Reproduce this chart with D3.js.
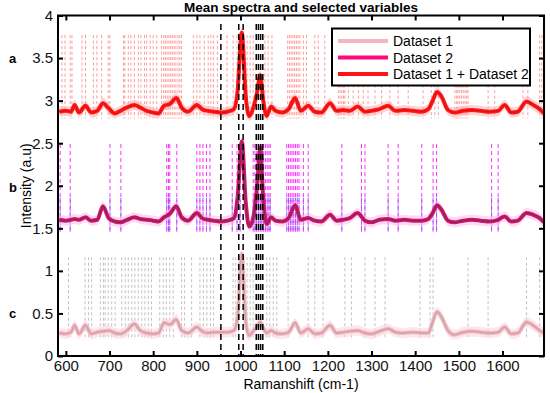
<!DOCTYPE html>
<html>
<head>
<meta charset="utf-8">
<script src="https://cdn.jsdelivr.net/npm/d3@7"></script>
<style>
  body { margin: 0; background: #fff; }
  svg { font-family: "Liberation Sans", Arial, sans-serif; }
</style>
</head>
<body>
<svg id="chart"></svg>
<script>
// raman shift grid (cm-1) shared by the three mean spectra
const shift = [585, 600, 612, 620, 630, 645, 658, 672, 685, 698, 712, 725, 740, 757, 770, 785, 800, 812, 825, 838,
  853, 865, 880, 900, 912, 925, 940, 955, 970, 985, 993, 1003, 1012, 1020, 1030, 1038, 1045, 1052, 1060, 1070,
  1080, 1095, 1110, 1125, 1138, 1155, 1170, 1185, 1205, 1220, 1235, 1250, 1268, 1285, 1300, 1318, 1338, 1355, 1375, 1395,
  1415, 1430, 1440, 1450, 1460, 1475, 1490, 1510, 1530, 1550, 1570, 1590, 1605, 1620, 1635, 1655, 1670, 1685, 1695];

// spectrum a : Dataset 1 + Dataset 2
const meanBoth = [2.87, 2.88, 2.87, 2.95, 2.86, 2.94, 2.86, 2.88, 2.97, 2.91, 2.85, 2.88, 2.92, 2.95, 2.92, 2.88, 2.86, 2.85, 2.94, 2.96,
  3.03, 2.92, 2.87, 2.95, 2.90, 2.88, 2.87, 2.86, 2.87, 2.90, 3.10, 3.80, 3.05, 2.82, 2.93, 3.10, 3.30, 3.00, 2.82, 2.93,
  2.88, 2.86, 2.90, 3.03, 2.88, 2.94, 2.87, 2.86, 2.97, 2.88, 2.89, 2.88, 2.93, 2.87, 2.88, 2.90, 2.94, 2.88, 2.89, 2.88,
  2.87, 2.90, 3.00, 3.10, 3.05, 2.89, 2.86, 2.88, 2.89, 2.88, 2.87, 2.88, 2.95, 2.86, 2.87, 2.99, 2.95, 2.90, 2.85];

// spectrum b : Dataset 2
const meanTwo = [1.60, 1.59, 1.60, 1.61, 1.60, 1.63, 1.59, 1.60, 1.76, 1.62, 1.58, 1.57, 1.60, 1.63, 1.61, 1.60, 1.59, 1.58, 1.63, 1.67,
  1.76, 1.63, 1.59, 1.68, 1.62, 1.60, 1.59, 1.58, 1.59, 1.62, 1.85, 2.52, 1.80, 1.52, 1.65, 2.00, 2.45, 1.85, 1.55, 1.63,
  1.59, 1.58, 1.62, 1.77, 1.60, 1.62, 1.59, 1.58, 1.66, 1.59, 1.60, 1.62, 1.68, 1.59, 1.57, 1.60, 1.61, 1.59, 1.60, 1.59,
  1.59, 1.61, 1.68, 1.77, 1.72, 1.59, 1.57, 1.59, 1.60, 1.59, 1.58, 1.60, 1.64, 1.58, 1.59, 1.68, 1.66, 1.62, 1.57];

// spectrum c : Dataset 1
const meanOne = [0.27, 0.26, 0.28, 0.36, 0.26, 0.36, 0.26, 0.28, 0.29, 0.30, 0.27, 0.26, 0.30, 0.375, 0.30, 0.27, 0.26, 0.27, 0.39, 0.37,
  0.43, 0.30, 0.27, 0.34, 0.29, 0.27, 0.28, 0.28, 0.28, 0.30, 0.45, 1.20, 0.40, 0.24, 0.30, 0.35, 0.40, 0.33, 0.27, 0.30,
  0.27, 0.26, 0.28, 0.39, 0.27, 0.32, 0.26, 0.27, 0.36, 0.27, 0.28, 0.29, 0.30, 0.27, 0.26, 0.29, 0.32, 0.28, 0.27, 0.28,
  0.27, 0.27, 0.40, 0.52, 0.46, 0.30, 0.25, 0.28, 0.29, 0.28, 0.27, 0.28, 0.34, 0.26, 0.27, 0.40, 0.36, 0.30, 0.27];

// selected variables (cm-1)
const selBoth = [591, 598, 610, 614, 637, 645, 663, 671, 682, 697, 701, 732, 735, 743, 749, 757, 766, 772, 780, 785, 793, 800, 808,
  819, 824, 828, 832, 836, 840, 844, 848, 852, 857, 861, 865, 892, 900, 907, 917, 926, 932, 938, 947, 969, 983, 992,
  1015, 1022, 1029, 1056, 1063, 1072, 1108, 1112, 1116, 1120, 1124, 1128, 1132, 1136, 1144, 1151, 1170, 1178, 1193,
  1224, 1228, 1232, 1236, 1239, 1247, 1258, 1270, 1281, 1292, 1308, 1323, 1342, 1361, 1384, 1418, 1437, 1445, 1453,
  1491, 1495, 1498, 1502, 1506, 1510, 1514, 1518, 1521, 1567, 1582, 1647, 1658, 1685, 1690];
const selTwo = [587, 610, 701, 726, 831, 835, 838, 854, 900, 907, 914, 922, 930, 981, 992, 999, 1029, 1033, 1037, 1041, 1045,
  1049, 1053, 1057, 1061, 1065, 1068, 1106, 1110, 1114, 1118, 1122, 1126, 1130, 1134, 1144, 1155, 1232, 1277, 1285,
  1338, 1361, 1415, 1441, 1449, 1575, 1590];
const selOne = [606, 644, 652, 659, 679, 686, 690, 697, 705, 713, 728, 736, 743, 751, 758, 766, 774, 781, 789, 796, 815, 823,
  830, 838, 846, 865, 872, 888, 907, 915, 923, 931, 938, 983, 989, 995, 1015, 1022, 1029, 1060, 1067, 1075, 1083,
  1109, 1155, 1170, 1189, 1239, 1254, 1285, 1308, 1331, 1411, 1434, 1441, 1521, 1567, 1655, 1685];
const selCommon = [955, 996, 1006, 1036, 1041, 1046, 1051];

const xTicks = [600, 700, 800, 900, 1000, 1100, 1200, 1300, 1400, 1500, 1600];
const yTicks = [0, 0.5, 1, 1.5, 2, 2.5, 3, 3.5, 4];
const legendNames = ['Dataset 1', 'Dataset 2', 'Dataset 1 + Dataset 2'];

const width = 550, height = 393;
const marginLeft = 58, marginRight = 6, marginTop = 15.5, marginBottom = 37;

const svg = d3.select('#chart')
  .attr('width', width)
  .attr('height', height)
  .attr('viewBox', [0, 0, width, height]);

const x = d3.scaleLinear().domain([582, 1695]).range([marginLeft, width - marginRight]);
const y = d3.scaleLinear().domain([0, 4]).range([height - marginBottom, marginTop]);

svg.append('defs').append('clipPath').attr('id', 'plot')
  .append('rect')
  .attr('x', marginLeft).attr('y', marginTop)
  .attr('width', x.range()[1] - marginLeft)
  .attr('height', y.range()[0] - marginTop);

const plot = svg.append('g').attr('clip-path', 'url(#plot)');

// selected variable lines for one spectrum
function drawSelected(values, top, bottom, color, dash, opacity) {
  plot.append('g').selectAll('line')
    .data(values)
    .enter().append('line')
    .attr('x1', d => x(d))
    .attr('x2', d => x(d))
    .attr('y1', y(top))
    .attr('y2', y(bottom))
    .attr('stroke', color)
    .attr('stroke-width', 1)
    .attr('stroke-dasharray', dash)
    .attr('opacity', opacity);
}

drawSelected(selBoth, 3.77, 2.79, '#ff5a5a', '3,2.5', 0.6);
drawSelected(selTwo, 2.49, 1.46, '#ff1aff', '4,3', 0.9);
drawSelected(selTwo, 1.86, 1.46, '#8a55ff', '4,3', 0.9);
drawSelected(selOne, 1.16, 0.19, '#9a9a9a', '3,2.5', 0.6);

// mean spectrum with a spread band, a thick line and a thin darker line
function drawSpectrum(values, band, thick, thin) {
  const pts = shift.map((s, i) => [s, values[i]]);
  plot.append('path')
    .attr('d', d3.area()
      .x(d => x(d[0]))
      .y0(d => y(d[1] - 0.06))
      .y1(d => y(d[1] + 0.06))
      .curve(d3.curveMonotoneX)(pts))
    .attr('fill', band)
    .attr('opacity', 0.55);
  const line = d3.line().x(d => x(d[0])).y(d => y(d[1])).curve(d3.curveMonotoneX);
  plot.append('path')
    .attr('d', line(pts))
    .attr('fill', 'none')
    .attr('stroke', thick)
    .attr('stroke-width', 4)
    .attr('stroke-linejoin', 'round');
  plot.append('path')
    .attr('d', line(pts))
    .attr('fill', 'none')
    .attr('stroke', thin)
    .attr('stroke-width', 1.5)
    .attr('stroke-linejoin', 'round');
}

drawSpectrum(meanOne, '#ffd0e0', '#f2b8c0', '#cfa2a6');
drawSpectrum(meanTwo, '#ffb8ee', '#e0106a', '#7e2e5c');
drawSpectrum(meanBoth, '#ffb0b0', '#ff1a1a', '#e81010');

// common selected variables
plot.append('g').selectAll('line')
  .data(selCommon)
  .enter().append('line')
  .attr('x1', d => x(d))
  .attr('x2', d => x(d))
  .attr('y1', y(3.9))
  .attr('y2', y(0))
  .attr('stroke', 'black')
  .attr('stroke-width', 1.5)
  .attr('stroke-dasharray', '6,4');

// axes
svg.append('g')
  .attr('transform', `translate(0, ${y(0)})`)
  .call(d3.axisBottom(x).tickValues(xTicks).tickSize(-5).tickPadding(4).tickFormat(d3.format('d')));
svg.append('g')
  .attr('transform', `translate(0, ${y(4)})`)
  .call(d3.axisTop(x).tickValues(xTicks).tickSize(-5).tickFormat(''));
svg.append('g')
  .attr('transform', `translate(${marginLeft}, 0)`)
  .call(d3.axisLeft(y).tickValues(yTicks).tickSize(-5).tickPadding(5).tickFormat(d => d));
svg.append('g')
  .attr('transform', `translate(${x.range()[1]}, 0)`)
  .call(d3.axisRight(y).tickValues(yTicks).tickSize(-5).tickFormat(''));

svg.selectAll('.domain').remove();
svg.selectAll('.tick line').attr('stroke', 'black').attr('stroke-width', 2);
svg.selectAll('.tick text').attr('font-size', 15).attr('fill', '#111')
  .attr('font-family', '"Liberation Sans", Arial, sans-serif');

svg.append('rect')
  .attr('x', marginLeft).attr('y', marginTop)
  .attr('width', x.range()[1] - marginLeft)
  .attr('height', y.range()[0] - marginTop)
  .attr('fill', 'none')
  .attr('stroke', 'black')
  .attr('stroke-width', 2);

// titles
svg.append('text')
  .text('Mean spectra and selected variables')
  .attr('x', (marginLeft + x.range()[1]) / 2)
  .attr('y', 12)
  .attr('text-anchor', 'middle')
  .attr('font-weight', 'bold')
  .attr('font-size', 13.5);

svg.append('text')
  .text('Ramanshift (cm-1)')
  .attr('x', (marginLeft + x.range()[1]) / 2)
  .attr('y', 389)
  .attr('text-anchor', 'middle')
  .attr('font-size', 14);

svg.append('text')
  .text('Intensity (a.u)')
  .attr('transform', `translate(31, ${(marginTop + y(0)) / 2}) rotate(-90)`)
  .attr('text-anchor', 'middle')
  .attr('font-size', 14);

// panel letters
const letters = [['a', 3.5], ['b', 1.98], ['c', 0.5]];
svg.selectAll('.letter')
  .data(letters)
  .enter().append('text')
  .attr('class', 'letter')
  .text(d => d[0])
  .attr('x', 9)
  .attr('y', d => y(d[1]) + 5)
  .attr('font-weight', 'bold')
  .attr('font-size', 13);

// legend
const legendColors = ['#f8b4c2', '#ff0a78', '#ff1414'];
const legend = svg.append('g').attr('transform', 'translate(332, 28.5)');
legend.append('rect')
  .attr('width', 198)
  .attr('height', 57)
  .attr('fill', 'white')
  .attr('stroke', 'black')
  .attr('stroke-width', 2);
legendNames.forEach((name, i) => {
  const ly = 12.5 + i * 16.5;
  legend.append('line')
    .attr('x1', 6).attr('x2', 56)
    .attr('y1', ly).attr('y2', ly)
    .attr('stroke', legendColors[i])
    .attr('stroke-width', 4);
  legend.append('text')
    .text(name)
    .attr('x', 61)
    .attr('y', ly + 5)
    .attr('font-size', 14);
});
</script>
</body>
</html>
